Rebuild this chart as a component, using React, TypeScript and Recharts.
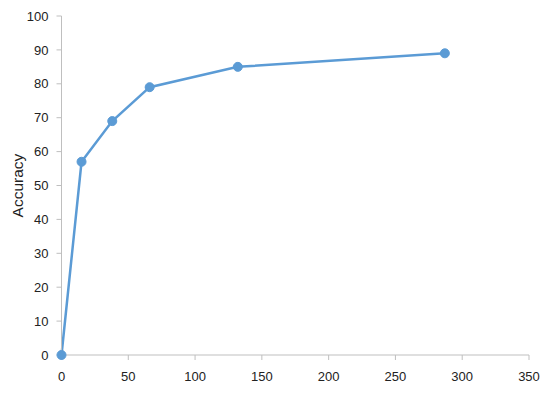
import React from 'react';
import { LineChart, Line, XAxis, YAxis } from 'recharts';

const samples = [0, 15, 38, 66, 132, 287];
const accuracy = [0, 57, 69, 79, 85, 89];
const xTicks = [0, 50, 100, 150, 200, 250, 300, 350];
const yTicks = [0, 10, 20, 30, 40, 50, 60, 70, 80, 90, 100];

const data = samples.map((x, i) => ({ x, y: accuracy[i] }));

const axisColor = '#bfbfbf';
const textStyle = { fill: '#222', fontSize: 13, fontFamily: 'Liberation Sans, Arial, sans-serif' };

export default function App() {
  return (
    <div style={{ position: 'absolute', left: 0, top: 0, background: '#fff' }}>
      <LineChart width={550} height={394} data={data} margin={{ top: 16, right: 21, left: 0, bottom: 9 }}>
        <XAxis
          dataKey="x"
          type="number"
          domain={[0, 350]}
          ticks={xTicks}
          stroke={axisColor}
          tickSize={5}
          tickMargin={12}
          tick={textStyle}
          height={30}
        />
        <YAxis
          type="number"
          domain={[0, 100]}
          ticks={yTicks}
          stroke={axisColor}
          tickSize={5}
          tickMargin={8}
          tick={textStyle}
          width={61.5}
          label={{
            value: 'Accuracy',
            angle: -90,
            position: 'insideLeft',
            offset: 17,
            dy: 0,
            style: { fill: '#222', fontSize: 15.5, fontFamily: 'Liberation Sans, Arial, sans-serif', textAnchor: 'middle' },
          }}
        />
        <Line
          dataKey="y"
          stroke="#5b9bd5"
          strokeWidth={2.5}
          dot={{ r: 4.5, fill: '#5b9bd5', stroke: '#5b9bd5', strokeWidth: 1 }}
          isAnimationActive={false}
        />
      </LineChart>
    </div>
  );
}
